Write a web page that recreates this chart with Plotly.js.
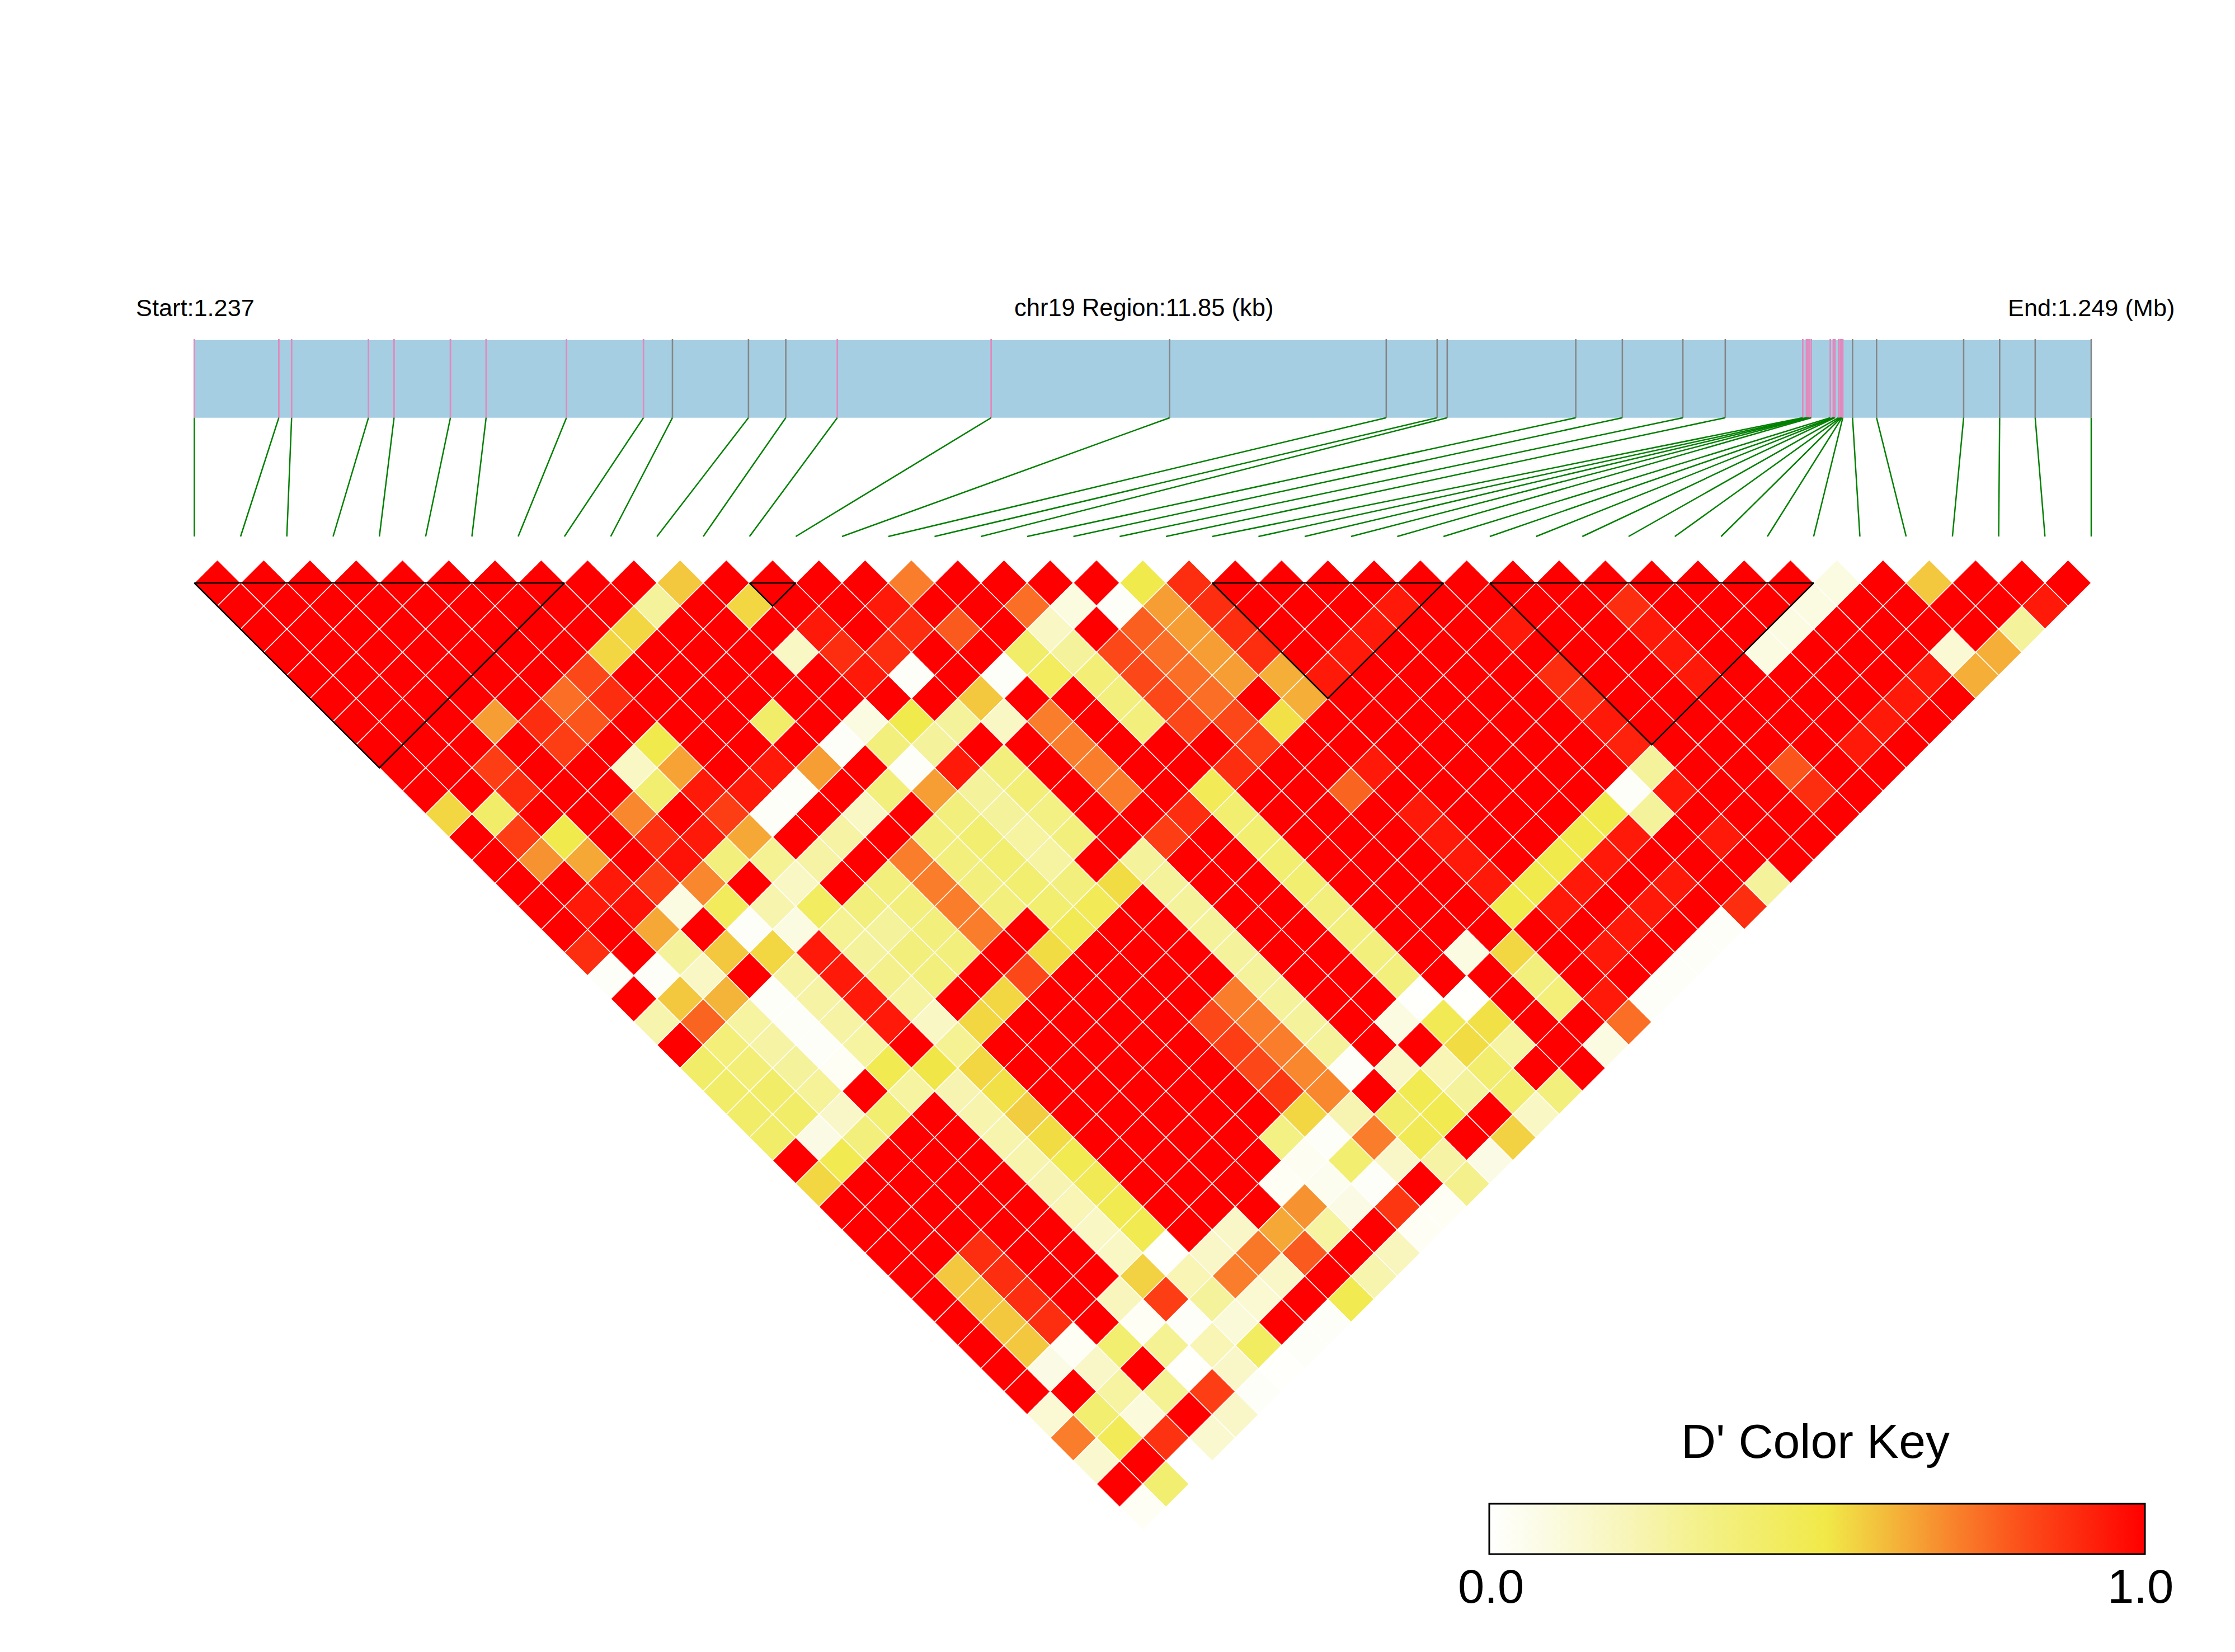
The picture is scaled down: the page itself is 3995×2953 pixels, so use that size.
<!DOCTYPE html>
<html><head><meta charset="utf-8">
<script src="https://cdn.plot.ly/plotly-3.0.1.min.js"></script>
<style>html,body{margin:0;padding:0;background:#fff}#g{width:3995px;height:2953px}</style>
</head><body><div id="g"></div>
<script>
// SNP positions in kb from the region start
const snpKb=[0,.528,.608,1.088,1.248,1.6,1.823,2.325,2.806,2.987,3.462,3.695,4.017,4.978,6.093,7.446,7.764,7.827,8.63,8.921,9.299,9.564,10.048,10.071,10.078,10.087,10.101,10.22,10.239,10.244,10.249,10.272,10.283,10.288,10.293,10.298,10.359,10.509,11.053,11.278,11.5,11.85];
const regionKb=11.85;
const pinkSnps=[0,1,2,3,4,5,6,7,8,12,13,22,23,24,25,26,27,28,29,30,31,32,33,34,35];
// D' by SNP separation (d01 = neighbours, d41 = first vs last)
const d01=[1,1,1,1,1,1,1,1,1,1,.58,1,1,1,1,.72,1,1,1,1,.5,.89,1,1,1,1,1,1,1,1,1,1,1,1,1,.09,1,.58,1,1,1];
const d02=[1,1,1,1,1,1,1,1,1,.28,1,.55,1,1,.94,1,1,.75,.1,.02,.66,.89,1,1,1,.94,1,1,1,1,.89,1,1,1,.09,1,1,1,1,.94];
const d03=[1,1,1,1,1,1,1,1,.55,1,1,1,.94,1,.89,.79,1,.18,1,.78,.66,.89,1,1,.94,1,1,.94,1,1,.94,1,1,.09,1,1,1,1,.28];
const d04=[1,1,1,1,1,1,1,.55,1,1,1,.18,.89,.89,1,1,.42,.28,.83,.75,.66,.89,1,.94,1,1,1,1,1,1,.94,1,.09,1,1,1,.13,.63];
const d05=[1,1,1,1,1,1,.83,1,1,1,1,1,.94,.02,1,.02,.45,.38,.83,.75,.66,.63,.94,1,1,1,1,.89,1,1,.94,1,1,1,1,.94,.63];
const d06=[1,1,1,1,1,.75,.89,1,1,1,1,1,1,1,.58,1,1,.36,.83,.75,1,.63,1,1,1,1,1,.89,1,1,1,1,1,1,.94,1];
const d07=[1,1,1,.66,.89,.8,1,1,1,.42,1,.09,.5,.28,.18,.72,1,.36,.83,.83,.53,1,1,1,1,1,1,.94,1,1,1,1,1,.94,1];
const d08=[1,1,1,1,.85,1,.5,1,1,1,.02,.36,.28,1,1,.72,1,1,1,.85,1,1,1,1,1,1,1,.92,1,1,1,1,.94,1];
const d09=[1,1,.85,1,1,.18,.65,1,.94,.66,1,.02,.94,.36,1,.72,1,1,.89,1,1,.94,1,1,1,1,1,.28,1,1,.8,1,1];
const d10=[1,1,.89,1,1,.4,.94,.94,.02,1,.36,.66,.28,.38,1,.72,1,.47,1,1,.77,1,1,1,1,1,.02,.94,1,1,.89,1];
const d11=[.55,.42,1,1,.7,1,.85,.02,1,.18,1,.36,.28,.34,1,1,.89,.4,1,1,1,.94,1,1,1,.5,.28,1,1,1,1];
const d12=[1,.85,.5,1,.89,.94,.64,1,.26,1,.36,.4,.27,.36,1,.85,1,.4,1,1,1,.94,1,1,.5,.94,1,.94,1,1];
const d13=[1,.68,.64,1,.96,.36,.3,.26,1,.72,.36,.4,.27,1,.28,1,1,.4,1,1,1,.94,1,.5,.94,1,1,1,1];
const d14=[1,1,.94,.85,.7,1,.18,1,.36,.72,.36,.4,.36,.54,.28,1,1,.4,1,1,1,.94,.5,.94,1,.94,1,.28];
const d15=[1,.94,.96,.09,.46,.24,.44,.36,.36,.72,.36,.4,.47,1,.28,1,1,.36,1,1,1,.5,.94,1,.94,1,.89];
const d16=[1,1,.64,1,.02,.09,.3,.28,.36,.72,1,.48,1,1,.28,1,1,.36,1,1,1,1,1,.94,1,.02];
const d17=[.89,1,.28,.58,.55,.94,.28,.36,.36,1,.54,1,1,1,.28,1,1,.36,1,.09,.55,1,.94,1,.02];
const d18=[.02,.02,.18,1,.26,.94,.32,.36,1,.83,1,1,1,1,.28,1,1,.36,1,1,.36,1,1,.02];
const d19=[1,.58,.62,.02,.26,.94,.27,1,.55,1,1,1,1,.72,.28,1,1,.01,.01,1,.37,.94,.02];
const d20=[.24,.77,.27,.02,.26,.94,.18,.55,1,1,1,1,.83,.72,.28,1,.09,.48,.53,1,1,.75];
const d21=[1,.37,.26,.02,.27,1,.3,1,1,1,1,1,.85,.72,.28,1,1,.54,.27,1,.09];
const d22=[.42,.38,.28,.03,.49,.52,.55,1,1,1,1,1,.83,.7,.02,.17,.22,.41,1,1];
const d23=[.42,.42,.29,1,.27,.23,.53,1,1,1,1,1,.87,.7,1,.49,.28,.41,.36];
const d24=[.42,.42,.17,.4,1,.24,.57,1,1,1,1,1,.55,.23,.42,.49,1,.18];
const d25=[.42,.08,.36,1,1,.24,.54,1,1,1,1,.34,.02,.72,.48,1,.56];
const d26=[1,.49,1,1,1,.24,.49,1,1,1,1,.04,.4,.17,.26,.08];
const d27=[.55,1,1,1,1,.23,.48,1,1,1,.03,.05,.02,1,.32];
const d28=[1,1,1,1,1,.22,.49,1,1,1,.68,.08,.87,.03];
const d29=[1,1,1,1,1,.18,.49,1,.17,.64,.27,1,.03];
const d30=[1,1,.89,1,1,.18,.01,.17,.73,.79,1,.2];
const d31=[1,.58,.89,1,1,.56,.22,.72,.17,1,.24];
const d32=[1,.58,.89,1,.2,.85,.28,.14,1,.49];
const d33=[1,.58,.89,1,.03,.02,.12,1,.02];
const d34=[1,.58,.03,.4,.3,.22,.44,.02];
const d35=[1,.08,.17,1,.01,.17,.01];
const d36=[1,1,.27,.3,.85,.02];
const d37=[.13,.4,.11,1,.17];
const d38=[.72,.47,.88,.15];
const d39=[.15,1,0];
const d40=[1,.4];
const d41=[.03];
const rows=[d01,d02,d03,d04,d05,d06,d07,d08,d09,d10,d11,d12,d13,d14,d15,d16,d17,d18,d19,d20,d21,d22,d23,d24,d25,d26,d27,d28,d29,d30,d31,d32,d33,d34,d35,d36,d37,d38,d39,d40,d41];
// LD blocks: first and last SNP index
const blocks=[[0,8],[12,13],[22,27],[28,35]];
const dScale=[[0,'#ffffff'],[.09,'#fbfbe2'],[.21,'#f8f5b9'],[.345,'#f3f082'],[.514,'#f1e948'],[.6,'#f3be3c'],[.7,'#f8872d'],[.82,'#fc4b19'],[1,'#ff0000']];

const PX=82.7, PY=41.3, X0=347.3, Y0=1042;
const W=3995,H=2953;
const kbToU=k=>k*41/regionKb;
const yBoxTop=(607.7-Y0)/PY, yBoxBot=(746.7-Y0)/PY, yLineEnd=(959-Y0)/PY, yTickTop=(606-Y0)/PY;

const cx=[],cy=[],cv=[];
rows.forEach((r,k)=>{const d=k+1;r.forEach((v,i)=>{cx.push(i+d/2);cy.push(d-1);cv.push(v);});});

const pinkX=[],pinkY=[],greyX=[],greyY=[],lx=[],ly=[];
snpKb.forEach((k,i)=>{
  const u=kbToU(k), pink=pinkSnps.includes(i);
  (pink?pinkX:greyX).push(u,u,null);
  (pink?pinkY:greyY).push(yTickTop,yBoxBot,null);
  lx.push(u,i,null); ly.push(yBoxBot,yLineEnd,null);
});
const tx=[],ty=[];
blocks.forEach(([a,b])=>{tx.push(a,b,(a+b)/2,a,null);ty.push(0,0,b-a,0,null);});

const traces=[
 {type:'scatter',mode:'lines',x:[0,41,41,0,0],y:[yBoxTop,yBoxTop,yBoxBot,yBoxBot,yBoxTop],fill:'toself',fillcolor:'#a6cee3',line:{width:0},hoverinfo:'skip',showlegend:false},
 {type:'scatter',mode:'lines',x:greyX,y:greyY,line:{color:'#868686',width:2.6},hoverinfo:'skip',showlegend:false},
 {type:'scatter',mode:'lines',x:pinkX,y:pinkY,line:{color:'#e18abd',width:2.8},hoverinfo:'skip',showlegend:false},
 {type:'scatter',mode:'lines',x:lx,y:ly,line:{color:'#008000',width:2.5},hoverinfo:'skip',showlegend:false},
 {type:'scatter',mode:'markers',x:cx,y:cy,hoverinfo:'skip',showlegend:false,
  marker:{symbol:'diamond',size:63.6,color:cv,cmin:0,cmax:1,colorscale:dScale,line:{color:'#ffffff',width:1.5},
   showscale:true,
   colorbar:{orientation:'h',lenmode:'pixels',len:1172,thicknessmode:'pixels',thickness:90,
     x:2662/W,xanchor:'left',y:1-2781/H,yanchor:'bottom',xpad:0,ypad:0,
     outlinecolor:'#000',outlinewidth:3,borderwidth:0,
     showticklabels:false,ticks:'',ticklen:0}}},
 {type:'scatter',mode:'lines',x:tx,y:ty,line:{color:'#000',width:2.6},hoverinfo:'skip',showlegend:false}
];
const ann=(t,x,y,xa,size)=>({text:t,x:x/W,y:1-y/H,xref:'paper',yref:'paper',xanchor:xa,yanchor:'middle',showarrow:false,
  font:{family:'Liberation Sans, Arial, sans-serif',size:size,color:'#000'}});
const layout={width:W,height:H,paper_bgcolor:'#fff',plot_bgcolor:'#fff',showlegend:false,
 margin:{l:0,r:0,t:0,b:0,pad:0,autoexpand:false},
 xaxis:{range:[-X0/PX,(W-X0)/PX],visible:false,fixedrange:true},
 yaxis:{range:[(H-Y0)/PY,-Y0/PY],visible:false,fixedrange:true},
 annotations:[
  ann('Start:1.237',241,550,'left',43.3),
  ann('chr19 Region:11.85 (kb)',2044,550,'center',43.5),
  ann('End:1.249 (Mb)',3889,550,'right',43.3),
  ann("D' Color Key",3245,2576,'center',86),
  ann('0.0',2665,2835,'center',85),
  ann('1.0',3826,2835,'center',85)
 ]};
Plotly.newPlot('g',traces,layout,{displayModeBar:false,staticPlot:true});
</script></body></html>
